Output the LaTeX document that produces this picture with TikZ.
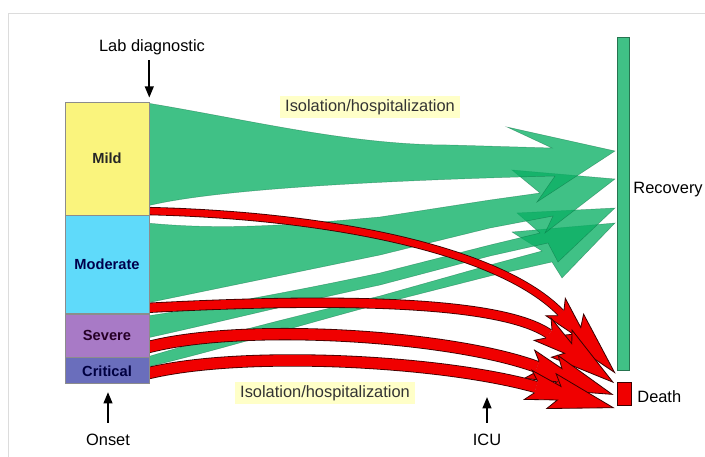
\documentclass[tikz,border=0pt]{standalone}
\usepackage{fontspec}
\setmainfont{Liberation Sans}
\usepackage{tikz}
\usetikzlibrary{arrows.meta,positioning,calc,backgrounds}
\definecolor{mildfill}{RGB}{250,244,125}
\definecolor{modfill}{RGB}{95,218,250}
\definecolor{sevfill}{RGB}{168,122,198}
\definecolor{critfill}{RGB}{106,110,188}
\definecolor{flowgreen}{RGB}{10,175,100}
\definecolor{bargreen}{RGB}{64,193,134}
\definecolor{flowred}{RGB}{240,0,0}
\definecolor{flowedge}{RGB}{60,0,0}
\definecolor{careyellow}{RGB}{255,255,200}
\definecolor{framegray}{RGB}{220,220,220}
\tikzset{
  stagebox/.style={
    rectangle, draw=black!45, line width=0.5pt, minimum width=2.52cm,
    inner sep=0pt, font=\fontsize{12.5}{15}\selectfont\bfseries
  },
  annot/.style={font=\fontsize{14}{16}\selectfont, inner sep=1pt},
  careband/.style={annot, fill=careyellow, text=black!80, inner xsep=0.15cm, inner ysep=0.1cm},
  marker/.style={-{Stealth[length=3.4mm,width=2.6mm,inset=0pt]}, line width=1.8pt},
  outcomebar/.style={rectangle, inner sep=0pt, line width=0.5pt},
  recflow/.style={
    fill=flowgreen, fill opacity=0.78, draw=flowgreen!55!black,
    draw opacity=0.45, line width=0.4pt
  },
  deathflow/.style={draw=flowedge, double=flowred, line width=0.7pt},
  deathhead/.pic={
    \fill[flowred] (0,-#1) -- (-8,{-#1-9}) -- (24,{-#1-1}) -- (16,{-#1-12}) -- (80,0)
      -- (16,{#1+12}) -- (24,{#1+1}) -- (-8,{#1+9}) -- (0,#1) -- cycle;
    \draw[flowedge, line width=0.7pt] (0,-#1) -- (-8,{-#1-9}) -- (24,{-#1-1}) -- (16,{-#1-12})
      -- (80,0) -- (16,{#1+12}) -- (24,{#1+1}) -- (-8,{#1+9}) -- (0,#1);
  },
}

\begin{document}
\begin{tikzpicture}[x=0.03cm, y=-0.03cm, node distance=0pt]
  \useasboundingbox (0,0) rectangle (705,457);
  \draw[framegray, line width=0.6pt] (8,457) -- (8,13) -- (705,13);

  \node (mild) [stagebox, fill=mildfill, text=black!85, minimum height=3.39cm] at (107,158.5) {Mild};
  \node (moderate) [stagebox, fill=modfill, text=blue!30!black, minimum height=2.94cm, below=of mild] {Moderate};
  \node (severe) [stagebox, fill=sevfill, text=violet!30!black, minimum height=1.29cm, below=of moderate] {Severe};
  \node (critical) [stagebox, fill=critfill, text=blue!25!black, minimum height=0.78cm, below=of severe] {Critical};

  \node (recovery) [outcomebar, fill=bargreen, draw=bargreen!60!black, minimum width=0.36cm, minimum height=9.99cm] at (623,203.5) {};
  \node (death) [outcomebar, fill=flowred, draw=flowedge, minimum width=0.42cm, minimum height=0.69cm] at (624,393.5) {};
  \node (reclbl) [annot, anchor=west] at (632,190) {Recovery};
  \node (deathlbl) [annot, anchor=west] at (636,397) {Death};

  \node (lab) [annot] at (152,47) {Lab diagnostic};
  \node (onset) [annot] at (108,440) {Onset};
  \node (icu) [annot] at (487,440) {ICU};
  \coordinate (icutip) at (487,397);
  \node (isotop) [careband] at (370,107) {Isolation/hospitalization};
  \node (isobottom) [careband] at (325,393) {Isolation/hospitalization};

  \draw[marker] ($(lab.south -| mild.north east)+(0,4)$) -- ($(mild.north east)+(0,-4)$);
  \draw[marker] ($(onset.north)+(0,-10)$) -- ($(onset.north |- critical.south)+(0,8)$);
  \draw[marker] ($(icu.north)+(0,-10)$) -- (icutip);

  \begin{scope}[on background layer]
    \path[recflow] (147,357) .. controls (220,335) and (300,315) .. (380,296) -- (490,265) -- (542,251)
      -- (512,232) -- (615,223) -- (562,278) -- (552,262) -- (490,276) -- (380,304)
      .. controls (300,325) and (220,350) .. (147,367) -- cycle;
    \path[recflow] (147,316) .. controls (220,305) and (300,290) .. (380,273) -- (490,245) -- (540,233)
      -- (517,213) -- (615,208) -- (558,262) -- (548,243) -- (490,256) -- (380,285)
      .. controls (300,302) and (220,322) .. (147,338) -- cycle;
    \path[recflow] (147,223) .. controls (230,231) and (300,224) .. (380,217) -- (490,200) -- (540,193)
      -- (512,170) -- (615,179) -- (545,233) -- (553,216) -- (490,228) -- (380,255) -- (147,303) -- cycle;
    \path[recflow] (147,103) .. controls (250,120) and (350,145) .. (450,145) -- (552,148)
      -- (507,127) -- (615,151) -- (537,202) -- (555,176)
      .. controls (400,180) and (220,188) .. (147,206) -- cycle;

    \draw[deathflow, double distance=0.2cm] (145,211) .. controls (330,215) and (500,250) .. (561,313);
    \pic[rotate=-48] at (561,313) {deathhead=4};
    \draw[deathflow, double distance=0.26cm] (145,308) .. controls (330,298) and (500,300) .. (549,334);
    \pic[rotate=-37] at (549,334) {deathhead=5};
    \draw[deathflow, double distance=0.32cm] (145,348) .. controls (240,322) and (450,335) .. (537,367);
    \pic[rotate=-20] at (537,367) {deathhead=6};
    \draw[deathflow, double distance=0.32cm] (145,374) .. controls (240,350) and (440,360) .. (536,387);
    \pic[rotate=-15] at (536,387) {deathhead=6};
  \end{scope}
\end{tikzpicture}
\end{document}
